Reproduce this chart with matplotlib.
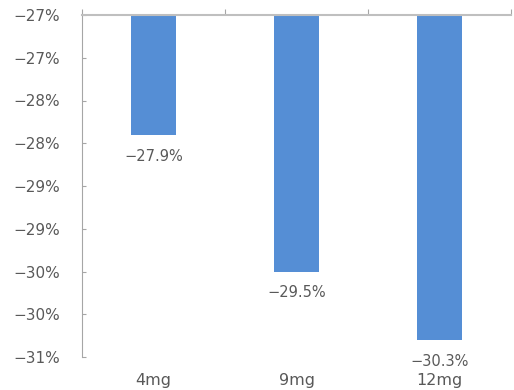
import matplotlib
matplotlib.use("Agg")
import matplotlib.pyplot as plt
import numpy as np

plt.rcParams['font.family'] = ['DejaVu Sans']

# dados
doses = ['4mg', '9mg', '12mg']
valores = [-27.9, -29.5, -30.3]
ticks_y = [-26.5, -27.0, -27.5, -28.0, -28.5, -29.0, -29.5, -30.0, -30.5]
rotulos_y = ['−27%', '−27%', '−28%', '−28%', '−29%', '−29%', '−30%', '−30%', '−31%']

base = -26.5
cinza = '#595959'

fig = plt.figure(figsize=(5.14, 3.9), dpi=100)
ax = fig.add_axes([82 / 514, 1 - 357 / 390, 429 / 514, 342 / 390])

x = np.arange(len(doses))
alturas = [v - base for v in valores]
ax.bar(x, alturas, bottom=base, width=0.31, color='#558ED5', zorder=2)

ax.set_ylim(-30.5, -26.5)
ax.set_xlim(-0.5, 2.5)
ax.set_yticks(ticks_y)
ax.set_yticklabels(rotulos_y, fontsize=11, color=cinza)
ax.tick_params(axis='y', direction='in', length=3, color='#a6a6a6', pad=16)

# eixo x no topo, rótulos embaixo
ax.set_xticks([-0.5, 0.5, 1.5, 2.5])
ax.set_xticklabels([])
ax.tick_params(axis='x', which='major', top=True, bottom=False, direction='out',
               length=4, color='#a6a6a6')
for i, d in enumerate(doses):
    ax.text(i, -30.5 - 0.275, d, ha='center', va='center', fontsize=11.5, color=cinza,
            clip_on=False)

# rótulos dos valores
for i, v in enumerate(valores):
    ax.text(i, v - 0.25, f'−{abs(v):.1f}%', ha='center', va='center', fontsize=10.5,
            color=cinza, clip_on=False)

for lado in ['right', 'bottom']:
    ax.spines[lado].set_visible(False)
ax.spines['top'].set_color('#bfbfbf')
ax.spines['top'].set_linewidth(1.5)
ax.spines['left'].set_color('#a6a6a6')

fig.savefig('out.png', dpi=100)
